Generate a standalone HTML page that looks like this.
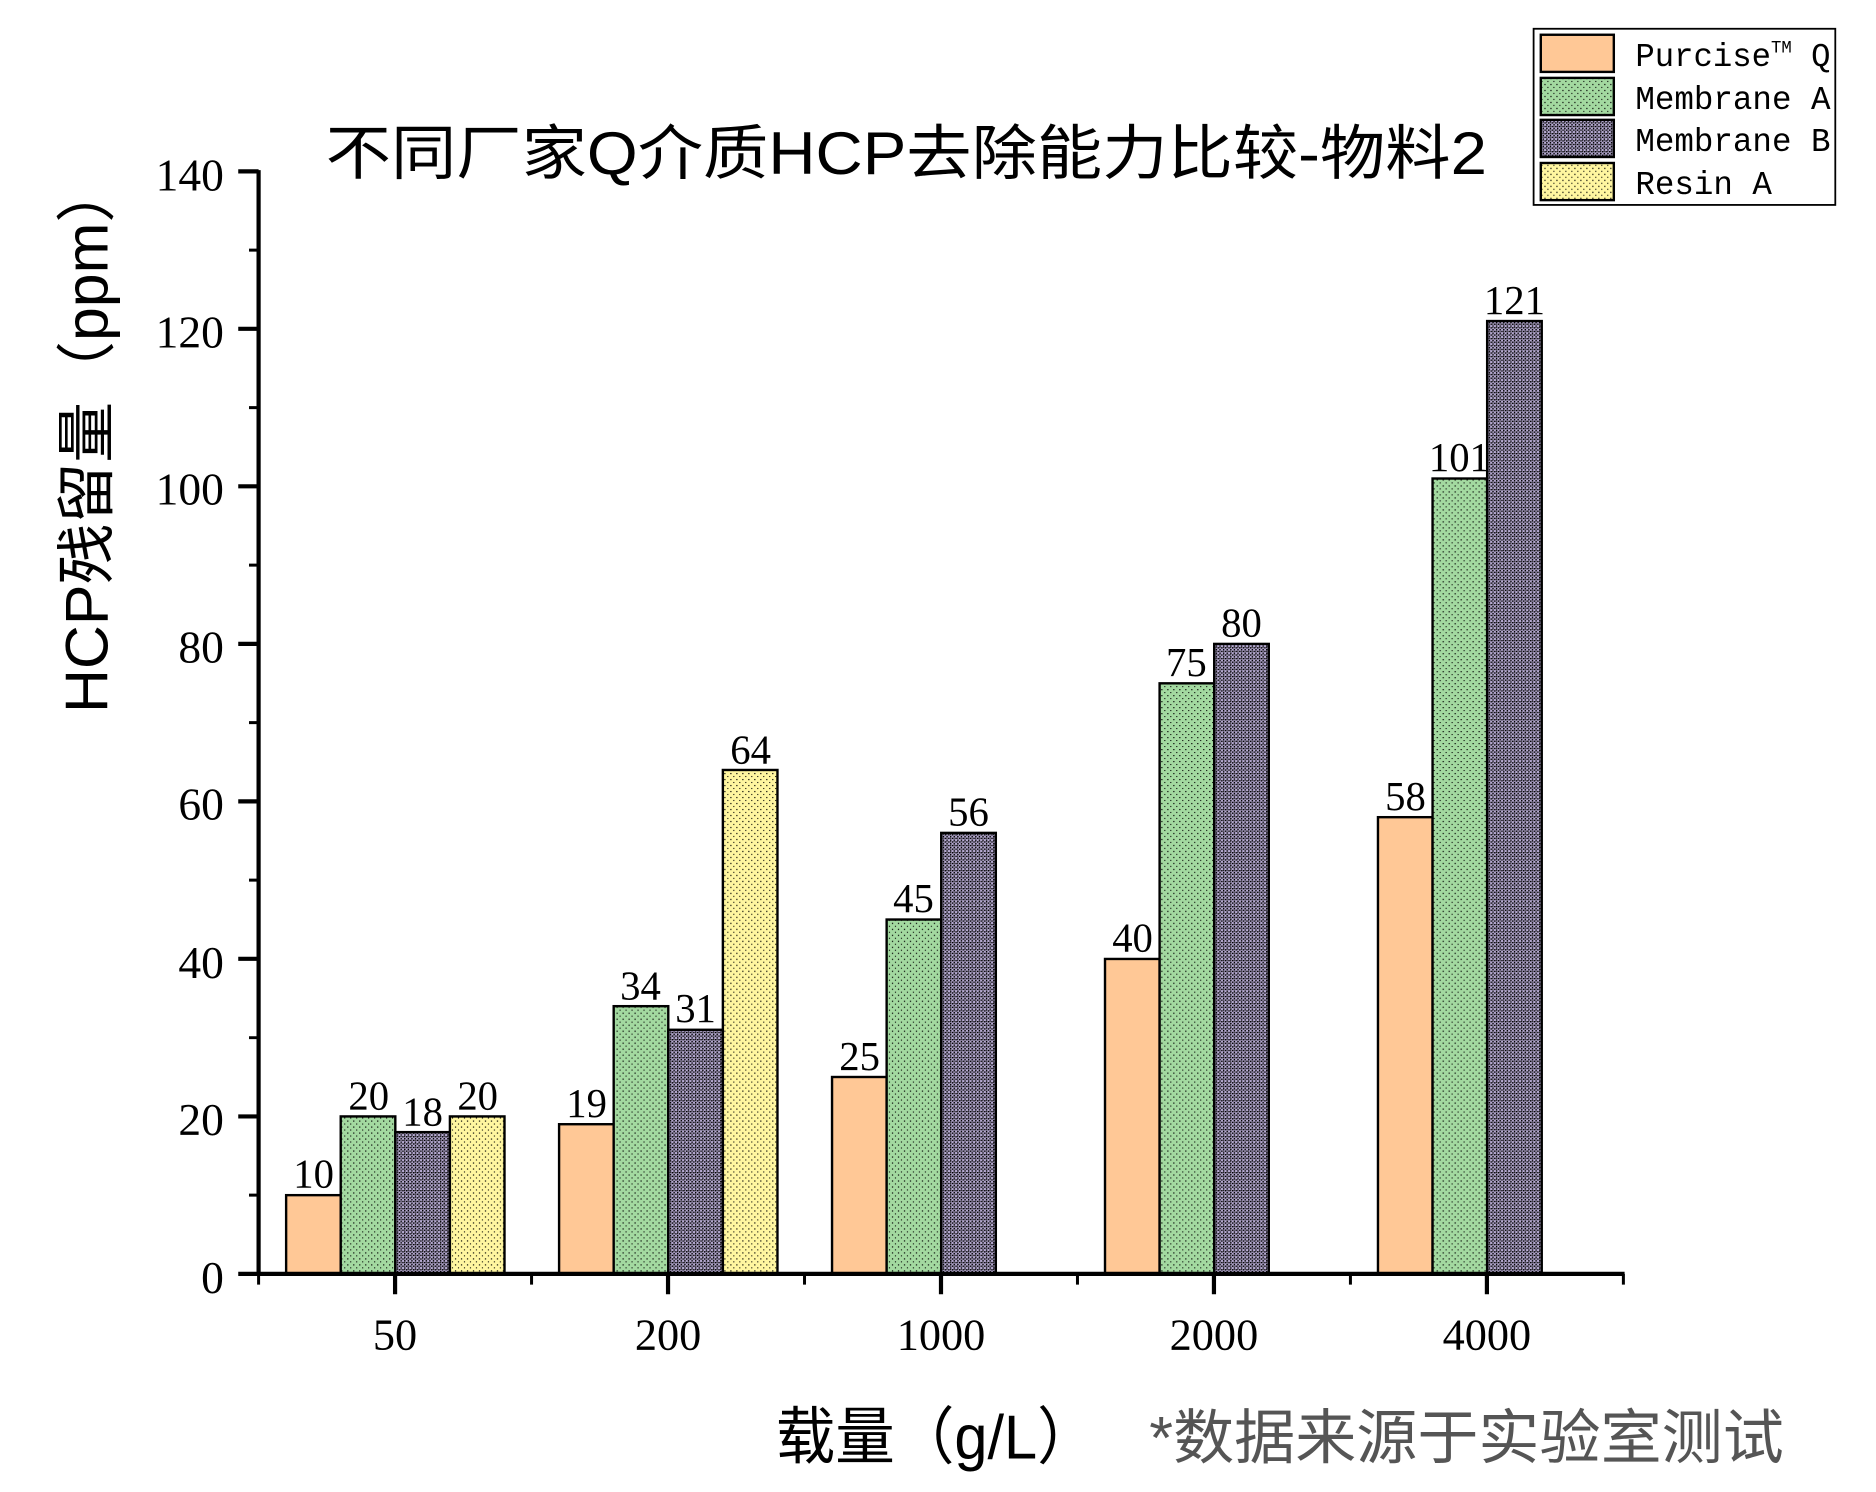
<!DOCTYPE html>
<html><head><meta charset="utf-8"><style>
html,body{margin:0;padding:0;background:#fff;}
svg{display:block;}
</style></head><body>
<svg width="1876" height="1492" viewBox="0 0 1567 1245" preserveAspectRatio="none" xmlns="http://www.w3.org/2000/svg">
<defs>
<pattern id="pg" width="5" height="5" patternUnits="userSpaceOnUse">
<rect width="5" height="5" fill="#a3d9a0"/><rect x="0" y="0" width="1" height="1" fill="#000"/><rect x="2.5" y="2.5" width="0.9" height="0.9" fill="#000"/>
</pattern>
<pattern id="pp" width="3" height="3" patternUnits="userSpaceOnUse">
<rect width="3" height="3" fill="#b8acd4"/><rect x="0" y="0" width="1.2" height="1.2" fill="#000"/><rect x="1.5" y="1.5" width="1.2" height="1.2" fill="#000"/><rect x="1.5" y="0" width="0.9" height="0.9" fill="#111"/>
</pattern>
<pattern id="py" width="5" height="5" patternUnits="userSpaceOnUse">
<rect width="5" height="5" fill="#fff6a0"/><rect x="0" y="0" width="1" height="1" fill="#000"/><rect x="2.5" y="2.5" width="0.9" height="0.9" fill="#000"/>
</pattern>
</defs>
<g font-family="'Liberation Serif', serif" fill="#000">
<text x="757" y="145" font-family="'Liberation Sans','Noto Sans CJK SC',sans-serif" font-size="50" text-anchor="middle" textLength="970" lengthAdjust="spacingAndGlyphs">不同厂家Q介质HCP去除能力比较-物料2</text>
<text transform="translate(90,365) rotate(-90)" font-family="'Liberation Sans','Noto Sans CJK SC',sans-serif" font-size="50" text-anchor="middle" textLength="460" lengthAdjust="spacingAndGlyphs">HCP残留量（ppm）</text>
<text x="648" y="1217" font-family="'Liberation Sans','Noto Sans CJK SC',sans-serif" font-size="52" textLength="268" lengthAdjust="spacingAndGlyphs">载量（g/L）</text>
<text x="960" y="1217" font-family="'Liberation Sans','Noto Sans CJK SC',sans-serif" font-size="50" fill="#555" textLength="530" lengthAdjust="spacingAndGlyphs">*数据来源于实验室测试</text>
</g>
<g stroke="#000" stroke-width="2">
<rect x="239" y="997.3" width="45.6" height="65.7" fill="#ffc896"/>
<rect x="284.6" y="931.6" width="45.6" height="131.4" fill="url(#pg)"/>
<rect x="330.2" y="944.7" width="45.6" height="118.3" fill="url(#pp)"/>
<rect x="375.8" y="931.6" width="45.6" height="131.4" fill="url(#py)"/>
<rect x="467" y="938.1" width="45.6" height="124.9" fill="#ffc896"/>
<rect x="512.6" y="839.6" width="45.6" height="223.4" fill="url(#pg)"/>
<rect x="558.2" y="859.3" width="45.6" height="203.7" fill="url(#pp)"/>
<rect x="603.8" y="642.5" width="45.6" height="420.5" fill="url(#py)"/>
<rect x="695" y="898.7" width="45.6" height="164.3" fill="#ffc896"/>
<rect x="740.6" y="767.3" width="45.6" height="295.7" fill="url(#pg)"/>
<rect x="786.2" y="695.0" width="45.6" height="368" fill="url(#pp)"/>
<rect x="923" y="800.2" width="45.6" height="262.8" fill="#ffc896"/>
<rect x="968.6" y="570.2" width="45.6" height="492.8" fill="url(#pg)"/>
<rect x="1014.2" y="537.3" width="45.6" height="525.7" fill="url(#pp)"/>
<rect x="1151" y="681.9" width="45.6" height="381.1" fill="#ffc896"/>
<rect x="1196.6" y="399.3" width="45.6" height="663.7" fill="url(#pg)"/>
<rect x="1242.2" y="267.9" width="45.6" height="795.1" fill="url(#pp)"/>
</g>
<g font-family="'Liberation Serif', serif" font-size="34" text-anchor="middle">
<text x="262" y="991">10</text><text x="308" y="926">20</text><text x="353" y="939">18</text><text x="399" y="926">20</text>
<text x="490" y="932">19</text><text x="535" y="834">34</text><text x="581" y="853">31</text><text x="627" y="637">64</text>
<text x="718" y="893">25</text><text x="763" y="761">45</text><text x="809" y="689">56</text>
<text x="946" y="794">40</text><text x="991" y="564">75</text><text x="1037" y="531">80</text>
<text x="1174" y="676">58</text><text x="1219" y="393">101</text><text x="1265" y="262">121</text>
</g>
<g stroke="#000" stroke-width="3.5" fill="none">
<line x1="216" y1="142" x2="216" y2="1064"/>
<line x1="199" y1="1063" x2="1357" y2="1063"/>
<path d="M199 143H216M199 274.4H216M199 405.8H216M199 537.3H216M199 668.7H216M199 800.1H216M199 931.6H216"/>
<path d="M208 208.7H216M208 340.1H216M208 471.6H216M208 603H216M208 734.4H216M208 865.9H216M208 997.3H216" stroke-width="2.5"/>
<path d="M330 1063V1080M558 1063V1080M786 1063V1080M1014 1063V1080M1242 1063V1080"/>
<path d="M216 1063V1072M444 1063V1072M672 1063V1072M900 1063V1072M1128 1063V1072M1356 1063V1072" stroke-width="2.5"/>
</g>
<g font-family="'Liberation Serif', serif" font-size="38" text-anchor="end">
<text x="187" y="159">140</text><text x="187" y="290">120</text><text x="187" y="421">100</text>
<text x="187" y="553">80</text><text x="187" y="684">60</text><text x="187" y="816">40</text>
<text x="187" y="947">20</text><text x="187" y="1079">0</text>
</g>
<g font-family="'Liberation Serif', serif" font-size="37" text-anchor="middle">
<text x="330" y="1126">50</text><text x="558" y="1126">200</text><text x="786" y="1126">1000</text><text x="1014" y="1126">2000</text><text x="1242" y="1126">4000</text>
</g>
<rect x="1281" y="24" width="252" height="147" fill="#fff" stroke="#000" stroke-width="1.5"/>
<g stroke="#000" stroke-width="2">
<rect x="1287" y="29" width="61" height="31" fill="#ffc896"/>
<rect x="1287" y="65" width="61" height="31" fill="url(#pg)"/>
<rect x="1287" y="100" width="61" height="31" fill="url(#pp)"/>
<rect x="1287" y="136" width="61" height="31" fill="url(#py)"/>
</g>
<g font-family="'Liberation Mono', monospace" font-size="28">
<text x="1366" y="55" textLength="163" lengthAdjust="spacingAndGlyphs">Purcise<tspan font-size="15" dy="-11">TM</tspan><tspan dy="11"> Q</tspan></text>
<text x="1366" y="91" textLength="163" lengthAdjust="spacingAndGlyphs">Membrane A</text>
<text x="1366" y="126" textLength="163" lengthAdjust="spacingAndGlyphs">Membrane B</text>
<text x="1366" y="162" textLength="114" lengthAdjust="spacingAndGlyphs">Resin A</text>
</g>
</svg>
</body></html>
